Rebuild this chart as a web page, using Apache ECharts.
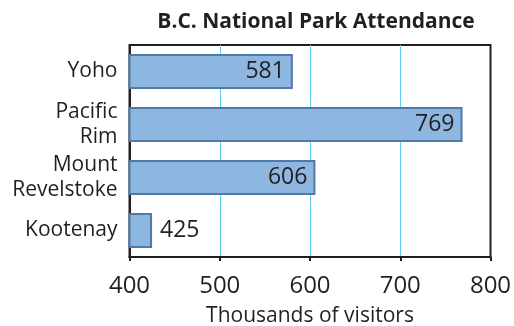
<!DOCTYPE html>
<html>
<head>
<meta charset="utf-8">
<script src="https://cdn.jsdelivr.net/npm/echarts@6/dist/echarts.min.js"></script>
<style>html,body{margin:0;padding:0;background:#fff}#c{width:514px;height:326px}</style>
</head>
<body>
<div id="c"></div>
<script>
const categories = ["Yoho", "Pacific\nRim", "Mount\nRevelstoke", "Kootenay"];
const visitors = [581, 769, 606, 425];
const xTicks = [400, 500, 600, 700, 800];
const titleText = "B.C. National Park Attendance";
const xAxisTitle = "Thousands of visitors";

const FONT = "Open Sans";
const TXT = "#231f20";
const chart = echarts.init(document.getElementById('c'), null, {renderer: 'canvas'});
chart.setOption({
  animation: false,
  title: {
    text: titleText, left: 311, top: 7, textAlign: 'center',
    textStyle: {fontFamily: FONT, fontWeight: 'bold', fontSize: 21, color: TXT}
  },
  grid: {left: 129.5, right: 23.5, top: 45, bottom: 69, show: true, borderColor: TXT, borderWidth: 2,
         containLabel: false, outerBoundsMode: 'none'},
  xAxis: {
    type: 'value', min: xTicks[0], max: xTicks[xTicks.length - 1], interval: 100,
    name: xAxisTitle, nameLocation: 'middle', nameGap: 49,
    nameTextStyle: {fontFamily: FONT, fontSize: 21, color: TXT},
    axisLine: {show: true, lineStyle: {color: TXT, width: 2}},
    axisTick: {show: true, length: 4, lineStyle: {color: TXT, width: 2}},
    axisLabel: {fontFamily: FONT, fontSize: 24, color: TXT, margin: 17},
    splitLine: {show: true, showMinLine: false, showMaxLine: false, lineStyle: {color: '#5fcbf2', width: 1}}
  },
  yAxis: {
    type: 'category', data: categories, inverse: true,
    axisLine: {show: true, lineStyle: {color: TXT, width: 2}},
    axisTick: {show: false},
    axisLabel: {fontFamily: FONT, fontSize: 21, color: TXT, margin: 12, lineHeight: 25, align: 'right'}
  },
  series: [{
    type: 'bar', barWidth: 35,
    data: visitors.map((v, i) => ({
      value: v,
      label: {position: i === visitors.length - 1 ? 'right' : 'insideRight'}
    })),
    itemStyle: {color: '#8db6e0', borderColor: '#4f7aa5', borderWidth: 2},
    label: {show: true, fontFamily: FONT, fontSize: 23, color: TXT, distance: 8},
    z: 1
  }]
});
</script>
</body>
</html>
